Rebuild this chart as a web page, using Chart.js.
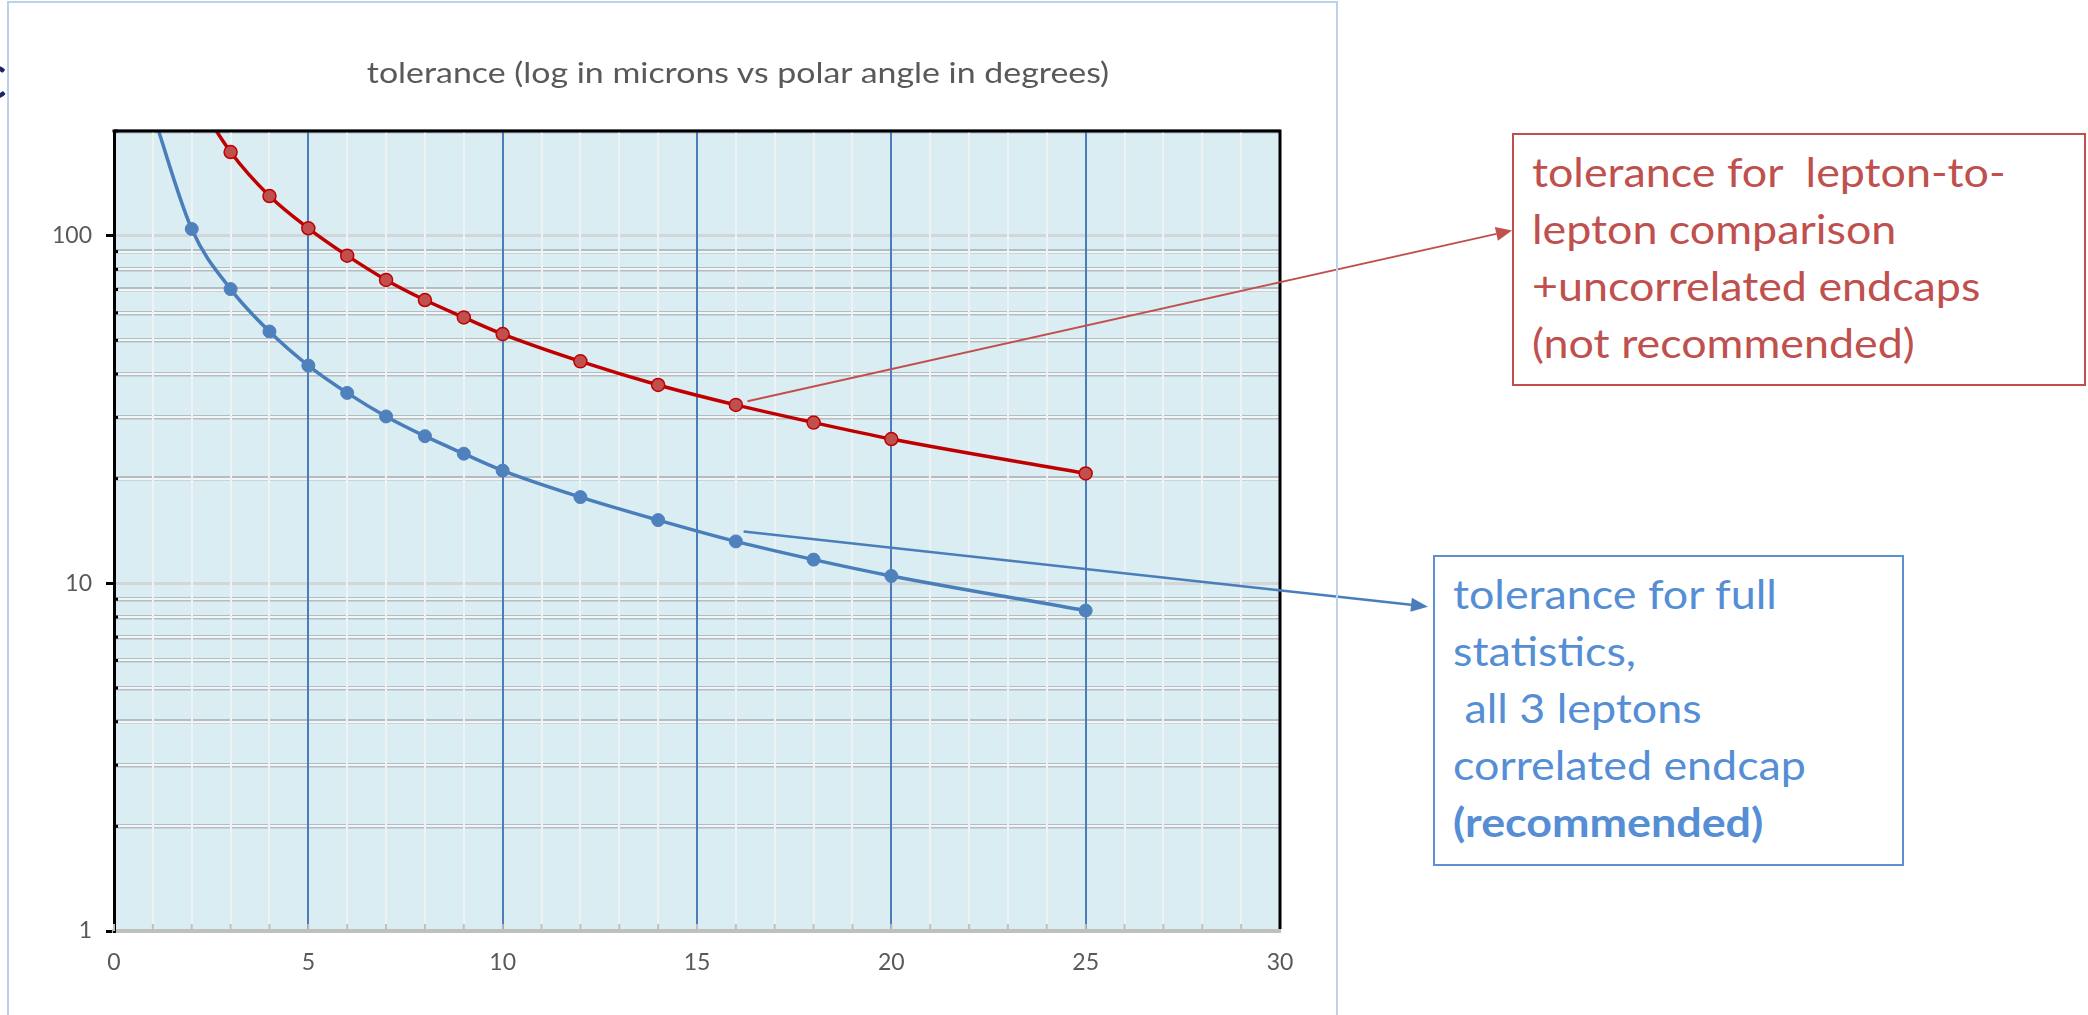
<!DOCTYPE html>
<html>
<head>
<meta charset="utf-8">
<script src="https://cdn.jsdelivr.net/npm/chart.js@4.4.1/dist/chart.umd.min.js"></script>
<style>
  html, body { margin: 0; padding: 0; background: #fff; }
  body { width: 2088px; height: 1015px; position: relative; overflow: hidden; font-family: Lato, "Open Sans", sans-serif; }
  #chart { position: absolute; left: 0; top: 0; }
  #frame { position: absolute; left: 7px; top: 1px; width: 1331px; height: 1040px; border: 2px solid #bdd0ea; box-sizing: border-box; pointer-events: none; }
  #slideGlyph { position: absolute; left: -23px; top: 43px; font-size: 63px; line-height: 63px; color: #1c2566; }
  #title { position: absolute; left: 338px; top: 58px; width: 800px; text-align: center; font-size: 28px; line-height: 28px; color: #595959; white-space: nowrap; transform: scaleX(1.21); transform-origin: center top; }
  .note { position: absolute; box-sizing: border-box; background: #fff; font-size: 40px; line-height: 57px; padding: 9px 0 0 18px; }
  .note span { display: inline-block; white-space: pre; transform: scaleX(1.12); transform-origin: left top; }
  #noteRed { left: 1512px; top: 133px; width: 574px; height: 253px; border: 2px solid #c0504d; color: #c0504d; }
  #noteBlue { left: 1433px; top: 555px; width: 471px; height: 311px; border: 2px solid #5b8fd6; color: #558ed5; }
</style>
</head>
<body>
<div id="slideGlyph">c</div>
<canvas id="chart" width="2088" height="1015"></canvas>
<div id="frame"></div>
<div id="title">tolerance (log in microns vs polar angle in degrees)</div>
<div id="noteRed" class="note"><span>tolerance for  lepton-to-
lepton comparison
+uncorrelated endcaps
(not recommended)</span></div>
<div id="noteBlue" class="note"><span>tolerance for full
statistics,
 all 3 leptons
correlated endcap
<b>(recommended)</b></span></div>
<script>
/* ================================
   DATA
================================ */
// red : lepton-to-lepton + uncorrelated endcaps
const redAngles    = [2, 3, 4, 5, 6, 7, 8, 9, 10, 12, 14, 16, 18, 20, 25];
const redTolerance = [260, 174, 130, 105, 87.6, 74.6, 65.3, 58.2, 52.1, 43.5, 37.2, 32.6, 29.0, 26.0, 20.7];

// blue : full statistics, all 3 leptons, correlated endcap
const blueAngles    = [1, 2, 3, 4, 5, 6, 7, 8, 9, 10, 12, 14, 16, 18, 20, 25];
const blueTolerance = [225, 104.5, 70.2, 53.0, 42.3, 35.3, 30.2, 26.5, 23.6, 21.1, 17.7, 15.2, 13.2, 11.7, 10.5, 8.35];

// axes
const xTickValues = [0, 1, 2, 3, 4, 5, 6, 7, 8, 9, 10, 11, 12, 13, 14, 15, 16, 17, 18, 19, 20, 21, 22, 23, 24, 25, 26, 27, 28, 29, 30];
const xLabels     = [0, 5, 10, 15, 20, 25, 30];
const yTickValues = [1, 2, 3, 4, 5, 6, 7, 8, 9, 10, 20, 30, 40, 50, 60, 70, 80, 90, 100, 200];
const yLabels     = [1, 10, 100];

// where the callout arrows leave the curves (angle, tolerance)
const redArrowFrom  = [16.3, 33.4];
const blueArrowFrom = [16.2, 14.1];


/* ================================
   HELPERS
================================ */
const isDecade = v => yLabels.includes(v);
const toPoints = (xs, ys) => xs.map((x, i) => ({ x: x, y: ys[i] }));

function drawArrow(ctx, from, to, color, width, headLen, headWidth) {
  const ang = Math.atan2(to[1] - from[1], to[0] - from[0]);
  const bx = to[0] - headLen * Math.cos(ang);
  const by = to[1] - headLen * Math.sin(ang);
  ctx.save();
  ctx.strokeStyle = color;
  ctx.fillStyle = color;
  ctx.lineWidth = width;
  ctx.beginPath();
  ctx.moveTo(from[0], from[1]);
  ctx.lineTo(bx, by);
  ctx.stroke();
  ctx.beginPath();
  ctx.moveTo(to[0], to[1]);
  ctx.lineTo(bx + headWidth / 2 * Math.sin(ang), by - headWidth / 2 * Math.cos(ang));
  ctx.lineTo(bx - headWidth / 2 * Math.sin(ang), by + headWidth / 2 * Math.cos(ang));
  ctx.closePath();
  ctx.fill();
  ctx.restore();
}


/* ================================
   PLUGINS
================================ */
const plotFrame = {
  id: 'plotFrame',
  beforeDraw(chart) {
    const { ctx, chartArea: a } = chart;
    ctx.save();
    ctx.fillStyle = '#daedf3';
    ctx.fillRect(a.left, a.top, a.right - a.left, a.bottom - a.top);
    ctx.restore();
  },
  afterDatasetsDraw(chart) {
    const { ctx, chartArea: a, scales } = chart;
    ctx.save();
    // small inward ticks on the bottom axis
    ctx.strokeStyle = '#bfbfbf';
    ctx.lineWidth = 2;
    xTickValues.forEach(v => {
      const px = scales.x.getPixelForValue(v);
      ctx.beginPath();
      ctx.moveTo(px, a.bottom);
      ctx.lineTo(px, a.bottom - 7);
      ctx.stroke();
    });
    // small inward ticks on the left axis
    ctx.strokeStyle = '#000';
    ctx.lineWidth = 3;
    yTickValues.filter(v => !isDecade(v)).forEach(v => {
      const py = scales.y.getPixelForValue(v);
      ctx.beginPath();
      ctx.moveTo(a.left, py);
      ctx.lineTo(a.left + 4, py);
      ctx.stroke();
    });
    // top and right border
    ctx.strokeStyle = '#000';
    ctx.lineWidth = 3;
    ctx.beginPath();
    ctx.moveTo(a.left - 1.5, a.top);
    ctx.lineTo(a.right, a.top);
    ctx.lineTo(a.right, a.bottom - 2);
    ctx.stroke();
    ctx.restore();
  }
};

const callouts = {
  id: 'callouts',
  afterDraw(chart) {
    const { ctx, scales } = chart;
    const red = document.getElementById('noteRed').getBoundingClientRect();
    const blue = document.getElementById('noteBlue').getBoundingClientRect();
    drawArrow(ctx,
      [scales.x.getPixelForValue(redArrowFrom[0]), scales.y.getPixelForValue(redArrowFrom[1])],
      [red.left, red.top + red.height * 0.385],
      '#c0504d', 2, 16, 14);
    drawArrow(ctx,
      [scales.x.getPixelForValue(blueArrowFrom[0]), scales.y.getPixelForValue(blueArrowFrom[1])],
      [blue.left - 5, blue.top + blue.height * 0.166],
      '#4a7ebb', 2.5, 17, 14);
  }
};


/* ================================
   CHART
================================ */
Chart.defaults.font.family = 'Lato, "Open Sans", sans-serif';

const tickFont = { family: 'Lato', size: 23 };

new Chart(document.getElementById('chart'), {
  type: 'line',
  data: {
    datasets: [
      {
        label: 'lepton-to-lepton, uncorrelated endcaps',
        data: toPoints(redAngles, redTolerance),
        borderColor: '#c00000',
        borderWidth: 3.5,
        pointRadius: 6.5,
        pointBackgroundColor: '#c0504d',
        pointBorderColor: '#c00000',
        pointBorderWidth: 1.5,
        cubicInterpolationMode: 'monotone'
      },
      {
        label: 'full statistics, correlated endcap',
        data: toPoints(blueAngles, blueTolerance),
        borderColor: '#4a7ebb',
        borderWidth: 3.5,
        pointRadius: 6.5,
        pointBackgroundColor: '#4f81bd',
        pointBorderColor: '#4f81bd',
        pointBorderWidth: 1,
        cubicInterpolationMode: 'monotone'
      }
    ]
  },
  options: {
    responsive: false,
    animation: false,
    devicePixelRatio: 1,
    layout: { padding: { left: 0, top: 131, right: 808, bottom: 24 } },
    elements: { line: { capBezierPoints: false } },
    plugins: {
      legend: { display: false },
      tooltip: { enabled: false },
      title: { display: false }
    },
    scales: {
      x: {
        type: 'linear',
        min: 0,
        max: 30,
        afterBuildTicks: s => { s.ticks = xTickValues.map(v => ({ value: v })); },
        afterFit: s => { s.height = 60; },
        grid: {
          z: -1,
          drawTicks: false,
          color: c => (c.tick && xLabels.includes(c.tick.value)) ? '#4a7ebb' : '#eef2f3',
          lineWidth: 2
        },
        border: { color: '#bfbfbf', width: 4 },
        ticks: {
          autoSkip: false,
          maxRotation: 0,
          padding: 18,
          color: '#595959',
          font: tickFont,
          callback: v => xLabels.includes(v) ? String(v) : ''
        }
      },
      y: {
        type: 'logarithmic',
        min: 1,
        max: 200,
        afterBuildTicks: s => { s.ticks = yTickValues.map(v => ({ value: v })); },
        afterFit: s => { s.width = 114; },
        grid: {
          z: -3,
          color: c => (c.tick && isDecade(c.tick.value)) ? '#d2d6d8' : '#b3bec4',
          lineWidth: c => (c.tick && isDecade(c.tick.value)) ? 3 : 4.5,
          tickColor: c => (c.tick && isDecade(c.tick.value)) ? '#000' : 'rgba(0,0,0,0)',
          tickLength: 8,
          tickWidth: 3
        },
        border: { color: '#000', width: 3 },
        ticks: {
          autoSkip: false,
          padding: 14,
          color: '#595959',
          font: tickFont,
          callback: v => isDecade(v) ? String(v) : ''
        }
      },
      yMinor: {
        type: 'logarithmic',
        position: 'left',
        min: 1,
        max: 200,
        afterBuildTicks: s => { s.ticks = yTickValues.map(v => ({ value: v })); },
        afterFit: s => { s.width = 0; },
        grid: {
          z: -2,
          drawTicks: false,
          color: c => (c.tick && isDecade(c.tick.value)) ? 'rgba(0,0,0,0)' : '#f2f4f5',
          lineWidth: 2
        },
        border: { display: false },
        ticks: { display: false }
      }
    }
  },
  plugins: [plotFrame, callouts]
});
</script>
</body>
</html>
